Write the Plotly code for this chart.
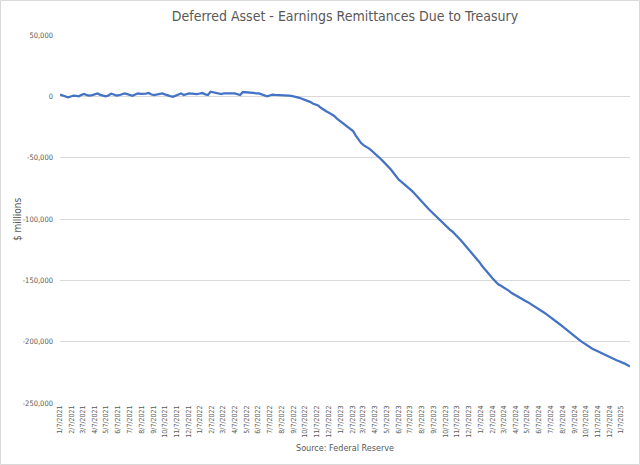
import pandas as pd
import plotly.graph_objects as go

# Weekly values, $ millions (weeks starting 2021-01-07)
values_2021 = [1400, 600, -500, -800, -100, 500, 300, 0, 1200, 1900,
               900, 500, 1000, 1800, 2400, 1200, 500, 0, 700, 2100,
               1500, 600, 900, 1700, 2400, 1800, 1000, 500, 1500, 2400,
               2100, 1900, 2200, 2700, 1500, 1100, 1500, 1700, 2400, 1600,
               600, 200, -300, 800, 1900, 2400, 1100, 1800, 2400, 2200,
               2000, 1900]
values_2022 = [2300, 2700, 1600, 1100, 3800, 3200, 2700, 2100, 1900, 2500,
               2700, 2600, 2500, 2400, 1700, 1100, 3500, 3200, 2900, 2700,
               2600, 2500, 2400, 1500, 600, 0, 700, 1400, 1200, 1100,
               1200, 1400, 1100, 600, 300, 0, -600, -1200, -1900, -2700,
               -3500, -4500, -5800, -6600, -7400, -9300, -11000, -12200, -13300, -14600,
               -16000, -18200]
values_2023 = [-19900, -21200, -22800, -25100, -26700, -28300, -32000, -35400, -38100, -40000,
               -41200, -42600, -44500, -46300, -48500, -50500, -52600, -54700, -57000, -59500,
               -62300, -65600, -68000, -69700, -71500, -73800, -75600, -77300, -79600, -81800,
               -84300, -86800, -89200, -91600, -93800, -96000, -98000, -99800, -101800, -104000,
               -106500, -108600, -110300, -112300, -114800, -117200, -119700, -122300, -125000, -127900,
               -130600, -132900]
values_2024 = [-135200, -138300, -141200, -143600, -146100, -148800, -151200, -153200, -154400, -155600,
               -156900, -158600, -160400, -161800, -163000, -164400, -165700, -166700, -167800, -169100,
               -170500, -171700, -173000, -174600, -176200, -177800, -179300, -181000, -182900, -184500,
               -186000, -187700, -189600, -191300, -193000, -194800, -196500, -198300, -200000, -201600,
               -203000, -204400, -205700, -206800, -207900, -209000, -210100, -210900, -211800, -212900,
               -214000, -215200]
values_2025 = [-216000, -216800, -217900, -219100, -220300]

y_tick_values = [50000, 0, -50000, -100000, -150000, -200000, -250000]
y_tick_labels = ["50,000", "0", "-50,000", "-100,000", "-150,000", "-200,000", "-250,000"]

values = values_2021 + values_2022 + values_2023 + values_2024 + values_2025
dates = pd.date_range("2021-01-07", periods=len(values), freq="7D")

title_text = "Deferred Asset - Earnings Remittances Due to Treasury"
y_title = "$ millions"
source_text = "Source: Federal Reserve"

FONT = "Liberation Sans Narrow, Arial Narrow, DejaVu Sans Condensed, Liberation Sans, sans-serif"
GRAY = "#595959"
GRID = "#d9d9d9"

x_range = [dates[0], dates[-1]]

fig = go.Figure()
fig.add_trace(go.Scatter(x=dates, y=values, mode="lines",
                         line=dict(color="#4472C4", width=2.25),
                         showlegend=False))

L, R, T, B = 60, 10, 35, 62
PW, PH = 640 - L - R, 465 - T - B

fig.update_layout(
    width=640, height=465,
    margin=dict(l=L, r=R, t=T, b=B),
    paper_bgcolor="white", plot_bgcolor="white",
    font=dict(family=FONT, color=GRAY, size=8),
    title=dict(text=title_text, x=0.5, xanchor="center", xref="paper",
               y=1 - 16 / 465, yanchor="middle", yref="container",
               font=dict(family=FONT, size=14, color=GRAY)),
    xaxis=dict(type="date", range=x_range, dtick="M1", tick0="2021-01-07",
               tickformat="%-m/%-d/%Y", tickangle=-90, showgrid=False,
               showline=False, ticks="", zeroline=False,
               tickfont=dict(size=7, color=GRAY)),
    xaxis2=dict(type="date", range=x_range, dtick="M1", tick0="2021-01-07",
                overlaying="x", anchor="free", position=250000 / 300000,
                showline=True, linecolor=GRID, linewidth=1,
                ticks="outside", ticklen=4, tickcolor=GRID,
                showticklabels=False, showgrid=False, zeroline=False),
    yaxis=dict(range=[-250000, 50000], tickmode="array",
               tickvals=y_tick_values, ticktext=y_tick_labels,
               showgrid=True, gridcolor=GRID, gridwidth=1, zeroline=False,
               showline=False, ticks="", ticklabelstandoff=6,
               tickfont=dict(size=7.5, color=GRAY)),
    annotations=[
        dict(text=y_title, xref="paper", yref="paper", x=-43 / PW, y=0.5,
             xanchor="center", yanchor="middle", textangle=-90, showarrow=False,
             font=dict(family=FONT, size=10, color=GRAY)),
        dict(text=source_text, xref="paper", yref="paper", x=0.5, y=-45 / PH,
             xanchor="center", yanchor="middle", showarrow=False,
             font=dict(family=FONT, size=9, color=GRAY)),
    ],
    shapes=[dict(type="rect", xref="paper", yref="paper",
                 x0=-(L - 0.5) / PW, x1=1 + (R - 0.5) / PW,
                 y0=-(B - 0.5) / PH, y1=1 + (T - 0.5) / PH,
                 line=dict(color=GRID, width=1), fillcolor="rgba(0,0,0,0)",
                 layer="below")],
)

fig.write_html("out.html")
